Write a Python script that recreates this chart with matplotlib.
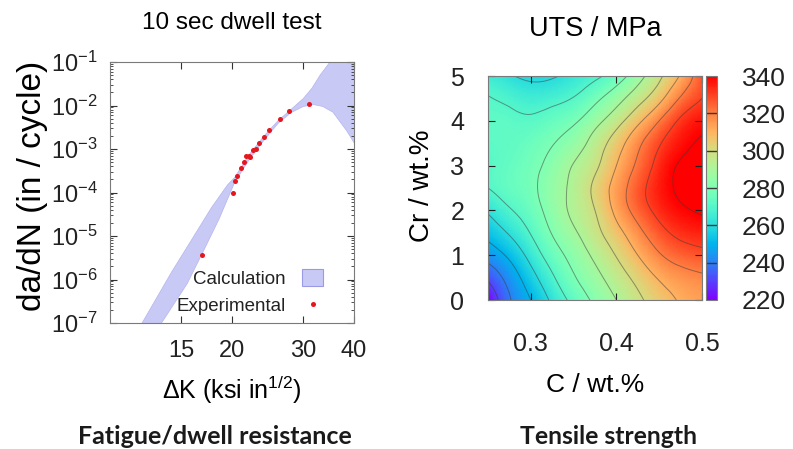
import numpy as np
import matplotlib
matplotlib.use("Agg")
import matplotlib.pyplot as plt
import matplotlib.tri as tri
from matplotlib.patches import Patch
from matplotlib.lines import Line2D
from matplotlib.ticker import NullLocator, FixedLocator, FixedFormatter, LogLocator

plt.rcParams['font.family'] = ['Liberation Sans', 'DejaVu Sans']
plt.rcParams['mathtext.fontset'] = 'custom'
plt.rcParams['mathtext.rm'] = 'Liberation Sans'
plt.rcParams['mathtext.it'] = 'Liberation Sans:italic'

# --- left panel: 10 sec dwell test ---
dk_exp = [16.9, 20.1, 20.4, 20.6, 21.0, 21.4, 21.7, 22.0, 22.2, 22.5, 22.9,
          23.3, 24.0, 24.7, 26.2, 27.7, 31.0]
rate_exp = [3.6e-6, 9.8e-5, 1.8e-4, 2.4e-4, 3.6e-4, 5.1e-4, 6.9e-4, 6.8e-4,
            6.6e-4, 9.3e-4, 1.0e-3, 1.35e-3, 1.9e-3, 2.8e-3, 4.8e-3, 7.4e-3, 1.07e-2]

# calculation band: upper edge and lower edge, both left to right
band_up_dk = [11.5, 12.0, 14.2, 16.0, 17.8, 19.5, 20.3, 22, 24, 26, 28, 30, 31.5, 33,
              34.9, 37, 45]
band_up_rate = [5e-8, 1e-7, 1.5e-6, 9e-6, 4.5e-5, 1.5e-4, 2.2e-4, 7.2e-4, 2.0e-3,
                4.5e-3, 8.2e-3, 1.45e-2, 2.5e-2, 5e-2, 0.1, 0.25, 10]
band_lo_dk = [12.9, 13.4, 15.5, 17.0, 18.6, 19.9, 20.3, 22, 24, 26, 28, 30, 31.8,
              33.5, 35.5, 38.4, 40, 45]
band_lo_rate = [5e-8, 1e-7, 8e-7, 4.5e-6, 2.5e-5, 1.1e-4, 1.7e-4, 5.5e-4, 1.6e-3,
                3.9e-3, 6.9e-3, 9.5e-3, 1.05e-2, 9.5e-3, 7e-3, 2.6e-3, 1.4e-3, 4e-4]

# --- right panel: UTS map (rows: Cr, columns: C) ---
c_vals = [0.25, 0.275, 0.30, 0.325, 0.35, 0.375, 0.40, 0.425, 0.45, 0.475, 0.50]
cr_vals = [0, 0.5, 1, 1.5, 2, 2.5, 3, 3.5, 4, 4.5, 5]
uts = [
    [220, 239, 250, 262, 273, 282, 290, 298, 305, 311, 314],
    [232, 244, 256, 268.5, 279, 287, 295, 303, 311, 316, 318.5],
    [244, 252, 263.5, 275, 283.5, 292, 300.5, 310, 319, 324.5, 327],
    [253, 261, 270.5, 280.5, 288.5, 297, 306.5, 317, 326.5, 332.5, 335],
    [261.5, 269, 275.5, 284, 292, 300, 312.5, 324, 333, 338.5, 341],
    [270, 274, 278, 285, 292.5, 302, 314, 326, 335.5, 341.5, 344],
    [271, 274, 277.5, 283, 290.5, 298, 310, 322, 333.5, 341, 344],
    [272, 273, 275.5, 279.5, 285, 294, 305, 317.5, 329, 337, 341],
    [272, 272, 271.5, 274.5, 278.5, 286.5, 296, 307.5, 320, 331.5, 337],
    [270.5, 268, 265.5, 267, 270.5, 277.5, 286, 296, 307, 321, 330],
    [265, 261, 258, 259, 263, 268, 275, 286, 298, 311, 327],
]
cbar_ticks = [220, 240, 260, 280, 300, 320, 340]

W, H = 793, 449
fig = plt.figure(figsize=(W / 100, H / 100), dpi=100)

def box(x0, y0, x1, y1):
    return [x0 / W, 1 - y1 / H, (x1 - x0) / W, (y1 - y0) / H]

def ftext(x, y, s, **kw):
    fig.text(x / W, 1 - y / H, s, ha='center', va='center', **kw)

frame = '#7a7a7a'
band_col = '#c9c9f6'

ax1 = fig.add_axes(box(110, 62, 354, 323))
ax1.fill(band_up_dk + band_lo_dk[::-1], band_up_rate + band_lo_rate[::-1],
         facecolor=band_col, edgecolor='#b4b4ee', lw=0.5)
ax1.plot(dk_exp, rate_exp, 'o', color='#e5161c', ms=3.6, mec='none')
ax1.set_xscale('log')
ax1.set_yscale('log')
ax1.set_xlim(10, 40)
ax1.set_ylim(1e-7, 1e-1)
ax1.yaxis.set_major_locator(LogLocator(base=10, numticks=20))
ax1.yaxis.set_minor_locator(LogLocator(base=10, subs=np.arange(2, 10), numticks=20))
ax1.xaxis.set_major_locator(FixedLocator([15, 20, 30, 40]))
ax1.xaxis.set_major_formatter(FixedFormatter(['15', '20', '30', '40']))
ax1.xaxis.set_minor_locator(NullLocator())
ax1.tick_params(which='both', direction='in', top=True, right=True, colors='#333333')
ax1.tick_params(which='major', length=5, labelsize=17, labelcolor='#222222')
ax1.tick_params(which='minor', length=2.5)
ax1.tick_params(axis='y', pad=9)
ax1.tick_params(axis='x', pad=12)
for s in ax1.spines.values():
    s.set_color(frame)
handles = [Patch(facecolor=band_col, edgecolor='#9a9ae6', lw=0.8),
           Line2D([], [], marker='o', ls='', color='#e5161c', ms=3.6, mec='none')]
ax1.legend(handles, ['Calculation', 'Experimental'], loc='lower right',
           bbox_to_anchor=(0.942, -0.035), markerfirst=False, frameon=False,
           fontsize=13.5, handlelength=1.1, handleheight=1.0, handletextpad=0.9,
           labelspacing=0.45, labelcolor='#222222')

ftext(232, 23, '10 sec dwell test', fontsize=17.5)
ftext(232, 390, r'$\Delta$K (ksi in$^{1/2}$)', fontsize=18)
ftext(33, 186, 'da/dN (in / cycle)', fontsize=24, rotation=90)

# right panel
ax2 = fig.add_axes(box(488, 76, 702, 300))
cg, crg = np.meshgrid(c_vals, cr_vals)
z = np.array(uts, dtype=float).ravel()
# triangulate in scaled units so both axes have similar spacing
tr = tri.Triangulation(cg.ravel() * 20, crg.ravel())
interp = tri.CubicTriInterpolator(tr, z, kind='min_E')
refiner = tri.UniformTriRefiner(tr)
tr_f, z_f = refiner.refine_field(z, interp, subdiv=4)
tr_plot = tri.Triangulation(tr_f.x / 20, tr_f.y, tr_f.triangles)
tpc = ax2.tripcolor(tr_plot, z_f, shading='gouraud', cmap='rainbow', vmin=220, vmax=340)
ax2.tricontour(tr_plot, z_f, levels=np.arange(230, 350, 10), colors='#3a3a3a',
               linewidths=0.7, alpha=0.5)
ax2.set_xlim(0.25, 0.5)
ax2.set_ylim(0, 5)
ax2.set_xticks([0.3, 0.4, 0.5])
ax2.set_xticklabels(['0.3', '0.4', '0.5'])
ax2.set_yticks([0, 1, 2, 3, 4, 5])
ax2.tick_params(direction='in', top=True, right=True, length=5, labelsize=18,
                colors='#222222')
ax2.tick_params(axis='x', pad=23)
ax2.tick_params(axis='y', pad=17)
for s in ax2.spines.values():
    s.set_color(frame)

cax = fig.add_axes(box(706, 76, 717, 300))
cb = fig.colorbar(tpc, cax=cax, ticks=cbar_ticks)
cb.outline.set_edgecolor(frame)
cb.ax.tick_params(length=0, labelsize=19, pad=18, colors='#222222')
cb.add_lines([240, 260, 280, 300, 320], colors=['#3a3a3a'] * 5, linewidths=[1.0] * 5)

ftext(595, 29, 'UTS / MPa', fontsize=19.5)
ftext(595, 385, 'C / wt.%', fontsize=19)
ftext(422, 186, 'Cr / wt.%', fontsize=20, rotation=90)

ftext(215, 437, 'Fatigue/dwell resistance', fontsize=18, fontweight='bold',
      family='Lato', color='#1a1a1a')
ftext(609, 437, 'Tensile strength', fontsize=17.8, fontweight='bold',
      family='Lato', color='#1a1a1a')

fig.savefig('out.png', dpi=100)
